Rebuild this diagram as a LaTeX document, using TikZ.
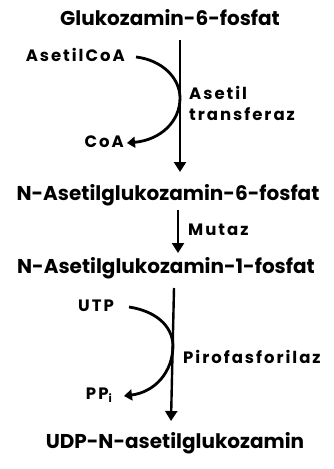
\documentclass[tikz,border=0pt]{standalone}
\usepackage{fontspec}
\setmainfont{Poppins}
\usetikzlibrary{arrows.meta}
\begin{document}
\begin{tikzpicture}[x=1pt,y=-1pt,
  chem/.style={inner sep=0pt, font=\fontsize{20}{23}\selectfont\bfseries},
  small/.style={inner sep=0pt, font=\fontsize{16.5}{21}\selectfont\bfseries\addfontfeatures{LetterSpace=12}},
  flow/.style={line width=2.4pt, -{Triangle[length=10pt,width=12pt]}},
  side/.style={line width=2.8pt, -{Triangle[length=8pt,width=11pt]}}]
\useasboundingbox (0,0) rectangle (334,469);

% metabolites along the pathway
\node[chem] (g6p) at (170,18) {Glukozamin-6-fosfat};
\node[chem] (n6p) at (168,195) {N-Asetilglukozamin-6-fosfat};
\node[chem] (n1p) at (166,268) {N-Asetilglukozamin-1-fosfat};
\node[chem] (udp) at (175,443) {UDP-N-asetilglukozamin};

% co-substrates and by-products
\node[small, anchor=east] (acoa) at (125,55) {AsetilCoA};
\node[small, anchor=east] (coa) at (124,142) {CoA};
\node[small, anchor=east] (utp) at (114,306) {UTP};
\node[small, anchor=east] (ppi) at (112,395) {PP\raisebox{-0.35ex}{\fontsize{11}{12}\selectfont i}};

% enzymes
\node[small, anchor=west, align=left] (at) at (189,103) {Asetil\\transferaz};
\node[small, anchor=west] (mut) at (188,230) {Mutaz};
\node[small, anchor=west] (pir) at (183,357) {Pirofasforilaz};

% main reaction arrows
\coordinate (a1) at (180,40);
\coordinate (b1) at (180,172);
\draw[flow] (a1) -- (b1);
\coordinate (a2) at (178,210);
\coordinate (b2) at (178,253);
\draw[flow] (a2) -- (b2);
\coordinate (a3) at (174,288);
\coordinate (b3) at (171,421);
\draw[flow] (a3) -- (b3);

% coupled side reactions
\coordinate (s1) at (136,57);
\coordinate (t1) at (127,143);
\draw[side] (s1) .. controls (162,60) and (180,78) .. (180,98)
  .. controls (180,122) and (160,140) .. (t1);
\coordinate (s2) at (129,307);
\coordinate (t2) at (124,396);
\draw[side] (s2) .. controls (155,311) and (172,325) .. (173,345)
  .. controls (173,372) and (155,392) .. (t2);
\end{tikzpicture}
\end{document}
